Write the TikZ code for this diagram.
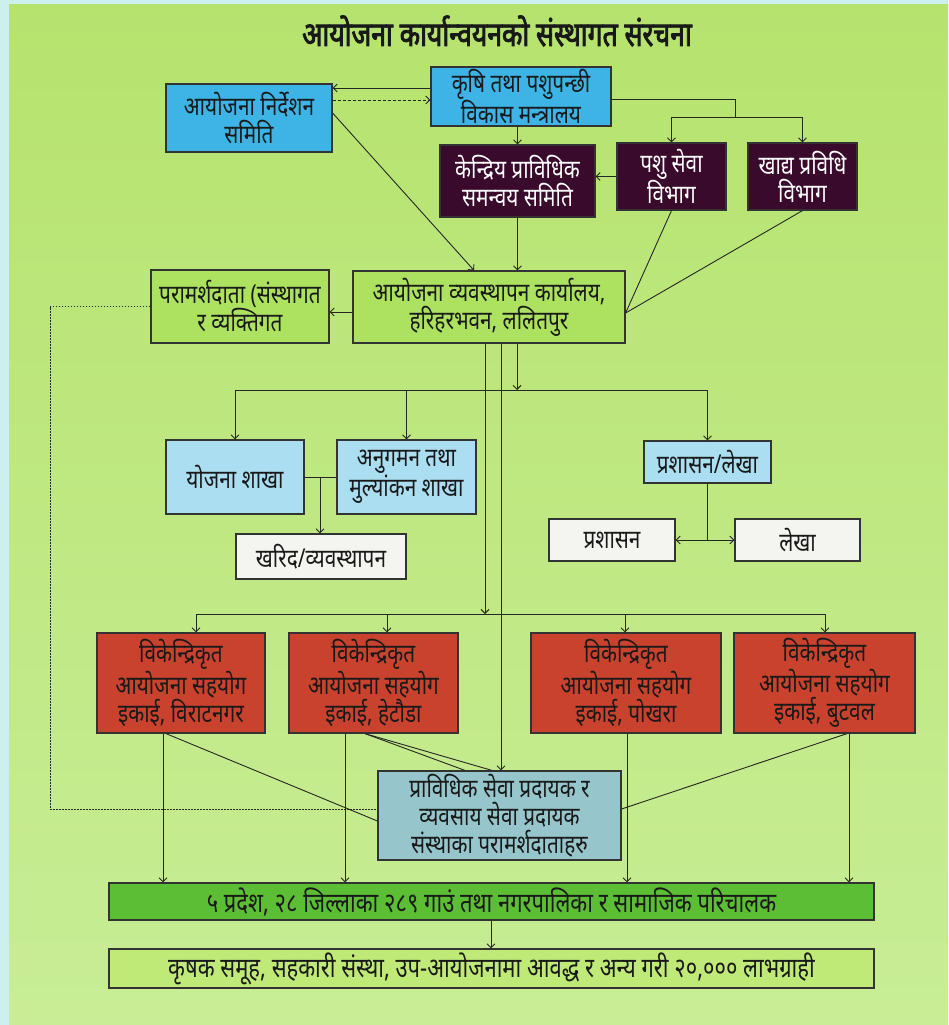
\documentclass[tikz,border=0pt]{standalone}
\usepackage{fontspec}
\setmainfont[Script=Devanagari,FakeStretch=0.8]{Noto Sans}
\newfontfamily\titlefont[Script=Devanagari,FakeStretch=0.78,FakeBold=2.5]{Noto Sans}
\usetikzlibrary{arrows.meta}

\definecolor{bgcyan}{RGB}{204,240,238}
\definecolor{bgtop}{RGB}{182,227,110}
\definecolor{bgbottom}{RGB}{200,237,150}
\definecolor{skyblue}{RGB}{62,180,230}
\definecolor{paleblue}{RGB}{170,222,240}
\definecolor{plum}{RGB}{58,10,44}
\definecolor{brick}{RGB}{200,66,46}
\definecolor{greyblue}{RGB}{150,198,204}
\definecolor{leafgreen}{RGB}{172,226,96}
\definecolor{grassgreen}{RGB}{92,190,52}
\definecolor{palegreen}{RGB}{192,234,120}
\definecolor{offwhite}{RGB}{244,245,240}

\tikzset{
    box/.style={draw=black!80, line width=1.2pt, align=center, inner sep=0pt,
        text=black!90, font=\fontsize{26}{28}\selectfont},
    darkbox/.style={box, fill=plum, text=white},
    redbox/.style={box, fill=brick, minimum height=100},
    widebox/.style={box, minimum width=765, font=\fontsize{27.5}{30}\selectfont},
    link/.style={line width=0.9pt, black!85, >={Straight Barb[length=4pt,width=8pt]}},
}

\begin{document}
\begin{tikzpicture}[x=1pt, y=-1pt]
    \useasboundingbox (0,0) rectangle (948,1025);
    \fill[bgcyan] (0,0) rectangle (948,1025);
    \shade[top color=bgtop, bottom color=bgbottom] (9,5) rectangle (948,1025);

    \node[font=\titlefont\fontsize{34}{36}\selectfont, text=black!90] (title) at (497,31) {आयोजना कार्यान्वयनको संस्थागत संरचना};

    % top level
    \node[box, fill=skyblue, minimum width=166, minimum height=68] (steer) at (249,118) {आयोजना निर्देशन\\समिति};
    \node[box, fill=skyblue, minimum width=180, minimum height=59] (mini) at (521,96.5) {कृषि तथा पशुपन्छी\\विकास मन्त्रालय};
    \node[darkbox, minimum width=155, minimum height=72] (ctc) at (517.5,181) {केन्द्रिय प्राविधिक\\समन्वय समिति};
    \node[darkbox, minimum width=109, minimum height=67] (pashu) at (671.5,176.5) {पशु सेवा\\विभाग};
    \node[darkbox, minimum width=109, minimum height=67] (khadya) at (802.5,176.5) {खाद्य प्रविधि\\विभाग};

    % office
    \node[box, fill=leafgreen, minimum width=272, minimum height=72] (office) at (489,307) {आयोजना व्यवस्थापन कार्यालय,\\हरिहरभवन, ललितपुर};
    \node[box, fill=leafgreen, minimum width=178, minimum height=73] (consult) at (240,306.5) {परामर्शदाता (संस्थागत\\र व्यक्तिगत};

    % branches
    \node[box, fill=paleblue, minimum width=138, minimum height=74] (yojana) at (235,477) {योजना शाखा};
    \node[box, fill=paleblue, minimum width=139, minimum height=74] (anugaman) at (406.5,477) {अनुगमन तथा\\मुल्यांकन शाखा};
    \node[box, fill=offwhite, minimum width=170, minimum height=45] (kharid) at (321,556.5) {खरिद/व्यवस्थापन};
    \node[box, fill=paleblue, minimum width=127, minimum height=42] (prashlekha) at (707.5,462) {प्रशासन/लेखा};
    \node[box, fill=offwhite, minimum width=126, minimum height=42] (prashasan) at (612,540) {प्रशासन};
    \node[box, fill=offwhite, minimum width=125, minimum height=42] (lekha) at (797.5,540) {लेखा};

    % support units
    \node[redbox, minimum width=168] (biratnagar) at (181,683) {विकेन्द्रिकृत\\आयोजना सहयोग\\इकाई, विराटनगर};
    \node[redbox, minimum width=169] (hetauda) at (373.5,683) {विकेन्द्रिकृत\\आयोजना सहयोग\\इकाई, हेटौडा};
    \node[redbox, minimum width=190] (pokhara) at (626,683) {विकेन्द्रिकृत\\आयोजना सहयोग\\इकाई, पोखरा};
    \node[redbox, minimum width=181] (butwal) at (824.5,683) {विकेन्द्रिकृत\\आयोजना सहयोग\\इकाई, बुटवल};

    \node[box, fill=greyblue, minimum width=243, minimum height=89] (tsp) at (499.5,815.5) {प्राविधिक सेवा प्रदायक र\\व्यवसाय सेवा प्रदायक\\संस्थाका परामर्शदाताहरु};
    \node[widebox, fill=grassgreen, minimum height=37] (palika) at (491.5,901.5) {५ प्रदेश, २८ जिल्लाका २८९ गाउं तथा नगरपालिका र सामाजिक परिचालक};
    \node[widebox, fill=palegreen, minimum height=39] (benef) at (491.5,968.5) {कृषक समूह, सहकारी संस्था, उप-आयोजनामा आवद्ध र अन्य गरी २०,००० लाभग्राही};

    % links at the top
    \draw[link, ->] (mini.west |- 0,88) -- (steer.east |- 0,88);
    \draw[link, ->, dash pattern=on 3pt off 2pt] (steer.east |- 0,100) -- (mini.west |- 0,100);
    \coordinate (mfork) at (735,117);
    \draw[link] (mini.east |- 0,99) -| (mfork);
    \draw[link, ->] (mfork) -| (pashu.north);
    \draw[link, ->] (mfork) -| (khadya.north);
    \draw[link, ->] (mini.south -| ctc.north) -- (ctc.north);
    \draw[link, ->] (pashu.west) -- (pashu.west -| ctc.east);
    \draw[link] (pashu.south) -- ([yshift=-6pt]office.east);
    \draw[link] (khadya.south) -- ([yshift=-6pt]office.east);
    \draw[link, ->] (steer.east |- 0,113) -- (office.north -| 474,0);
    \draw[link, ->] (ctc.south) -- (ctc.south |- office.north);
    \draw[link, ->] (office.west |- 0,312) -- (consult.east |- 0,312);
    \draw[link, dash pattern=on 1.5pt off 1.5pt] (consult.west) -| (50,809) -- (tsp.west |- 0,809);

    % links below the office
    \coordinate (bus1) at (517,390);
    \draw[link, ->] (office.south -| bus1) -- (bus1);
    \draw[link, ->] (bus1) -| (yojana.north);
    \draw[link, ->] (bus1) -| (prashlekha.north);
    \draw[link, ->] (anugaman.north |- bus1) -- (anugaman.north);
    \draw[link] (yojana.east) -- (anugaman.west);
    \draw[link, ->] (yojana.east -| 320,0) -- (kharid.north -| 320,0);
    \coordinate (plfork) at (prashlekha.south |- prashasan.east);
    \draw[link] (prashlekha.south) -- (plfork);
    \draw[link, ->] (plfork) -- (prashasan.east);
    \draw[link, ->] (plfork) -- (lekha.west);

    \coordinate (bus2) at (485,614);
    \draw[link, ->] (office.south -| bus2) -- (bus2);
    \draw[link] (196,614) -- (825,614);
    \draw[link, ->] (196,614) -- (biratnagar.north -| 196,0);
    \draw[link, ->] (387,614) -- (hetauda.north -| 387,0);
    \draw[link, ->] (625,614) -- (pokhara.north -| 625,0);
    \draw[link, ->] (825,614) -- (butwal.north -| 825,0);
    \draw[link, ->] (office.south -| 501,0) -- (tsp.north -| 501,0);

    % links of the support units
    \draw[link, ->] (biratnagar.south -| 163,0) -- (palika.north -| 163,0);
    \draw[link] (biratnagar.south -| 166,0) -- (tsp.west |- 0,821);
    \draw[link, ->] (hetauda.south -| 345,0) -- (palika.north -| 345,0);
    \draw[link] (hetauda.south -| 365,0) -- (tsp.north -| 465,0);
    \draw[link] (hetauda.south -| 365,0) -- (tsp.north -| 492,0);
    \draw[link, ->] (pokhara.south -| 627,0) -- (palika.north -| 627,0);
    \draw[link, ->] (butwal.south -| 849,0) -- (palika.north -| 849,0);
    \draw[link] (butwal.south -| 847,0) -- (tsp.east |- 0,809);
    \draw[link, ->] (palika.south -| 491,0) -- (benef.north -| 491,0);
\end{tikzpicture}
\end{document}
